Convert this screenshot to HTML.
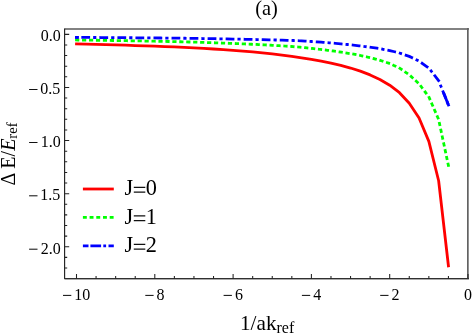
<!DOCTYPE html>
<html><head><meta charset="utf-8"><title>(a)</title>
<style>html,body{margin:0;padding:0;background:#fff;}body{width:472px;height:335px;overflow:hidden;font-family:"Liberation Serif",serif;}</style>
</head><body>
<svg width="472" height="335" viewBox="0 0 472 335" style="display:block;will-change:transform">
<rect x="0" y="0" width="472" height="335" fill="#ffffff"/>
<path d="M64.6 29.0 H468.95" fill="none" stroke="#828282" stroke-width="1.9"/>
<path d="M467.85 28.05 V278.65" fill="none" stroke="#626262" stroke-width="1.7"/>
<path d="M64.6 278.75 H468.95" fill="none" stroke="#707070" stroke-width="1.6"/>
<path d="M64.6 28.4 V278.65" fill="none" stroke="#222" stroke-width="1.15"/>
<path d="M64.05 278.60 H468.9" fill="none" stroke="#2a2a2a" stroke-width="1.0"/>
<path d="M468.0 278.65 v-4.6" fill="none" stroke="#333" stroke-width="1.3"/>
<path d="M64.6 34.35 h4.6 M64.6 44.97 h2.6 M64.6 55.59 h2.6 M64.6 66.21 h2.6 M64.6 76.83 h2.6 M64.6 87.45 h4.6 M64.6 98.07 h2.6 M64.6 108.69 h2.6 M64.6 119.31 h2.6 M64.6 129.93 h2.6 M64.6 140.55 h4.6 M64.6 151.17 h2.6 M64.6 161.79 h2.6 M64.6 172.41 h2.6 M64.6 183.03 h2.6 M64.6 193.65 h4.6 M64.6 204.27 h2.6 M64.6 214.89 h2.6 M64.6 225.51 h2.6 M64.6 236.13 h2.6 M64.6 246.75 h4.6 M64.6 257.37 h2.6 M64.6 267.99 h2.6 M76.50 278.65 v-4.6 M96.07 278.65 v-2.6 M115.65 278.65 v-2.6 M135.23 278.65 v-2.6 M154.80 278.65 v-4.6 M174.38 278.65 v-2.6 M193.95 278.65 v-2.6 M213.53 278.65 v-2.6 M233.10 278.65 v-4.6 M252.68 278.65 v-2.6 M272.25 278.65 v-2.6 M291.83 278.65 v-2.6 M311.40 278.65 v-4.6 M330.98 278.65 v-2.6 M350.55 278.65 v-2.6 M370.12 278.65 v-2.6 M389.70 278.65 v-4.6 M409.27 278.65 v-2.6 M428.85 278.65 v-2.6 M448.43 278.65 v-2.6" fill="none" stroke="#222" stroke-width="1.05"/>
<path d="M76.50 43.91 L86.29 44.14 L96.07 44.39 L105.86 44.65 L115.65 44.93 L125.44 45.22 L135.23 45.53 L145.01 45.85 L154.80 46.20 L164.59 46.57 L174.38 46.96 L184.16 47.40 L193.95 47.90 L203.74 48.44 L213.53 49.02 L223.31 49.65 L233.10 50.34 L242.89 51.10 L252.68 51.95 L262.46 52.89 L272.25 53.92 L282.04 55.07 L291.83 56.35 L301.61 57.78 L311.40 59.38 L321.19 61.20 L330.98 63.15 L340.76 65.40 L350.55 68.04 L360.34 71.16 L370.12 74.92 L379.91 79.47 L389.70 85.18 L399.49 92.70 L409.27 103.17 L419.06 118.07 L428.85 141.40 L438.64 180.76 L448.43 265.87" fill="none" stroke="#ff0000" stroke-width="2.8" stroke-linejoin="round" stroke-linecap="square"/>
<path d="M76.50 39.98 L86.29 40.11 L96.07 40.24 L105.86 40.38 L115.65 40.53 L125.44 40.69 L135.23 40.85 L145.01 41.03 L154.80 41.21 L164.59 41.41 L174.38 41.62 L184.16 41.85 L193.95 42.12 L203.74 42.42 L213.53 42.73 L223.31 43.07 L233.10 43.44 L242.89 43.85 L252.68 44.28 L262.46 44.76 L272.25 45.29 L282.04 45.87 L291.83 46.52 L301.61 47.34 L311.40 48.35 L321.19 49.50 L330.98 50.69 L340.76 52.08 L350.55 53.66 L360.34 55.46 L370.12 57.63 L379.91 60.25 L389.70 63.53 L399.49 68.05 L409.27 74.85 L419.06 83.76 L428.85 96.87 L438.64 119.49 L448.43 165.61" fill="none" stroke="#00ff00" stroke-width="2.8" stroke-dasharray="1.4 5.546" stroke-linejoin="round" stroke-linecap="square"/>
<path d="M76.50 37.38 L86.29 37.44 L96.07 37.50 L105.86 37.57 L115.65 37.64 L125.44 37.71 L135.23 37.79 L145.01 37.87 L154.80 37.96 L164.59 38.05 L174.38 38.15 L184.16 38.26 L193.95 38.39 L203.74 38.54 L213.53 38.69 L223.31 38.86 L233.10 39.04 L242.89 39.24 L252.68 39.44 L262.46 39.66 L272.25 39.90 L282.04 40.16 L291.83 40.45 L301.61 40.90 L311.40 41.51 L321.19 42.22 L330.98 42.97 L340.76 43.85 L350.55 44.84 L360.34 45.91 L370.12 47.22 L379.91 48.68 L389.70 50.52 L399.49 52.95 L409.27 56.37 L419.06 61.10 L428.85 68.02 L438.64 80.65 L448.43 104.87" fill="none" stroke="#0000ff" stroke-width="2.8" stroke-dasharray="0.4 5.83 5.98 5.83" stroke-linejoin="round" stroke-linecap="square"/>
<path d="M443.48 92.63 L448.95 106.16" fill="none" stroke="#0000ff" stroke-width="2.8"/>
<path d="M75.10 37.38 h3.8" fill="none" stroke="#0000ff" stroke-width="2.8"/>
<path d="M82.9 189.0 H113.8" stroke="#ff0000" stroke-width="2.8" fill="none"/>
<path d="M82.9 217.4 H113.8" stroke="#00ff00" stroke-width="2.8" stroke-dasharray="3.9 2.8" fill="none"/>
<path d="M82.9 245.8 H113.8" stroke="#0000ff" stroke-width="2.8" stroke-dasharray="5.6 1.9 10.7 2.2 2.8 2.4 8" fill="none"/>
<text transform="translate(124.50 195.45) scale(1 1.035)" text-anchor="start" style="font-family:'Liberation Serif',serif;fill:#000;font-size:22.3px">J</text>
<text transform="translate(145.70 195.45) scale(1 1.035)" text-anchor="start" style="font-family:'Liberation Serif',serif;fill:#000;font-size:22.3px">0</text>
<path d="M133.8 187.40 H145.3 M133.8 192.20 H145.3" stroke="#111" stroke-width="1.3" fill="none"/>
<text transform="translate(124.50 223.95) scale(1 1.035)" text-anchor="start" style="font-family:'Liberation Serif',serif;fill:#000;font-size:22.3px">J</text>
<text transform="translate(145.70 223.95) scale(1 1.035)" text-anchor="start" style="font-family:'Liberation Serif',serif;fill:#000;font-size:22.3px">1</text>
<path d="M133.8 215.90 H145.3 M133.8 220.70 H145.3" stroke="#111" stroke-width="1.3" fill="none"/>
<text transform="translate(124.50 252.45) scale(1 1.035)" text-anchor="start" style="font-family:'Liberation Serif',serif;fill:#000;font-size:22.3px">J</text>
<text transform="translate(145.70 252.45) scale(1 1.035)" text-anchor="start" style="font-family:'Liberation Serif',serif;fill:#000;font-size:22.3px">2</text>
<path d="M133.8 244.40 H145.3 M133.8 249.20 H145.3" stroke="#111" stroke-width="1.3" fill="none"/>
<text transform="translate(60.70 40.70) scale(1 1.06)" text-anchor="end" style="font-family:'Liberation Serif',serif;fill:#000;font-size:16px">0.0</text>
<text transform="translate(60.20 93.90) scale(1 1.06)" text-anchor="end" style="font-family:'Liberation Serif',serif;fill:#000;font-size:16px">0.5</text>
<path d="M29.10 89.50 H37.50" stroke="#111" stroke-width="1.05" fill="none"/>
<text transform="translate(60.70 146.90) scale(1 1.06)" text-anchor="end" style="font-family:'Liberation Serif',serif;fill:#000;font-size:16px">1.0</text>
<path d="M29.10 142.50 H37.50" stroke="#111" stroke-width="1.05" fill="none"/>
<text transform="translate(60.20 200.20) scale(1 1.06)" text-anchor="end" style="font-family:'Liberation Serif',serif;fill:#000;font-size:16px">1.5</text>
<path d="M29.10 195.80 H37.50" stroke="#111" stroke-width="1.05" fill="none"/>
<text transform="translate(60.70 253.60) scale(1 1.06)" text-anchor="end" style="font-family:'Liberation Serif',serif;fill:#000;font-size:16px">2.0</text>
<path d="M29.10 249.20 H37.50" stroke="#111" stroke-width="1.05" fill="none"/>
<path d="M63.00 295.40 H71.30" stroke="#111" stroke-width="1.05" fill="none"/>
<text transform="translate(74.30 299.80) scale(1 1.06)" text-anchor="start" style="font-family:'Liberation Serif',serif;fill:#000;font-size:16px">10</text>
<path d="M145.30 295.40 H153.60" stroke="#111" stroke-width="1.05" fill="none"/>
<text transform="translate(156.60 299.80) scale(1 1.06)" text-anchor="start" style="font-family:'Liberation Serif',serif;fill:#000;font-size:16px">8</text>
<path d="M223.60 295.40 H231.90" stroke="#111" stroke-width="1.05" fill="none"/>
<text transform="translate(234.90 299.80) scale(1 1.06)" text-anchor="start" style="font-family:'Liberation Serif',serif;fill:#000;font-size:16px">6</text>
<path d="M301.90 295.40 H310.20" stroke="#111" stroke-width="1.05" fill="none"/>
<text transform="translate(313.20 299.80) scale(1 1.06)" text-anchor="start" style="font-family:'Liberation Serif',serif;fill:#000;font-size:16px">4</text>
<path d="M380.20 295.40 H388.50" stroke="#111" stroke-width="1.05" fill="none"/>
<text transform="translate(391.50 299.80) scale(1 1.06)" text-anchor="start" style="font-family:'Liberation Serif',serif;fill:#000;font-size:16px">2</text>
<text transform="translate(468.00 299.80) scale(1 1.06)" text-anchor="middle" style="font-family:'Liberation Serif',serif;fill:#000;font-size:16px">0</text>
<text transform="translate(266.50 14.80) scale(1 1.0)" text-anchor="middle" style="font-family:'Liberation Serif',serif;fill:#000;font-size:20.4px">(a)</text>
<text transform="translate(240.00 330.40) scale(1 1.0)" text-anchor="start" style="font-family:'Liberation Serif',serif;fill:#000;font-size:21.2px">1/ak<tspan dy="2.3" style="font-size:16px">ref</tspan></text>
<text transform="translate(15.2 185.4) rotate(-90)" style="font-family:'Liberation Serif',serif;fill:#000;font-size:20px">Δ E/<tspan style="font-style:italic">E</tspan><tspan dy="2.2" style="font-size:14.8px">ref</tspan></text>
</svg>
</body></html>
